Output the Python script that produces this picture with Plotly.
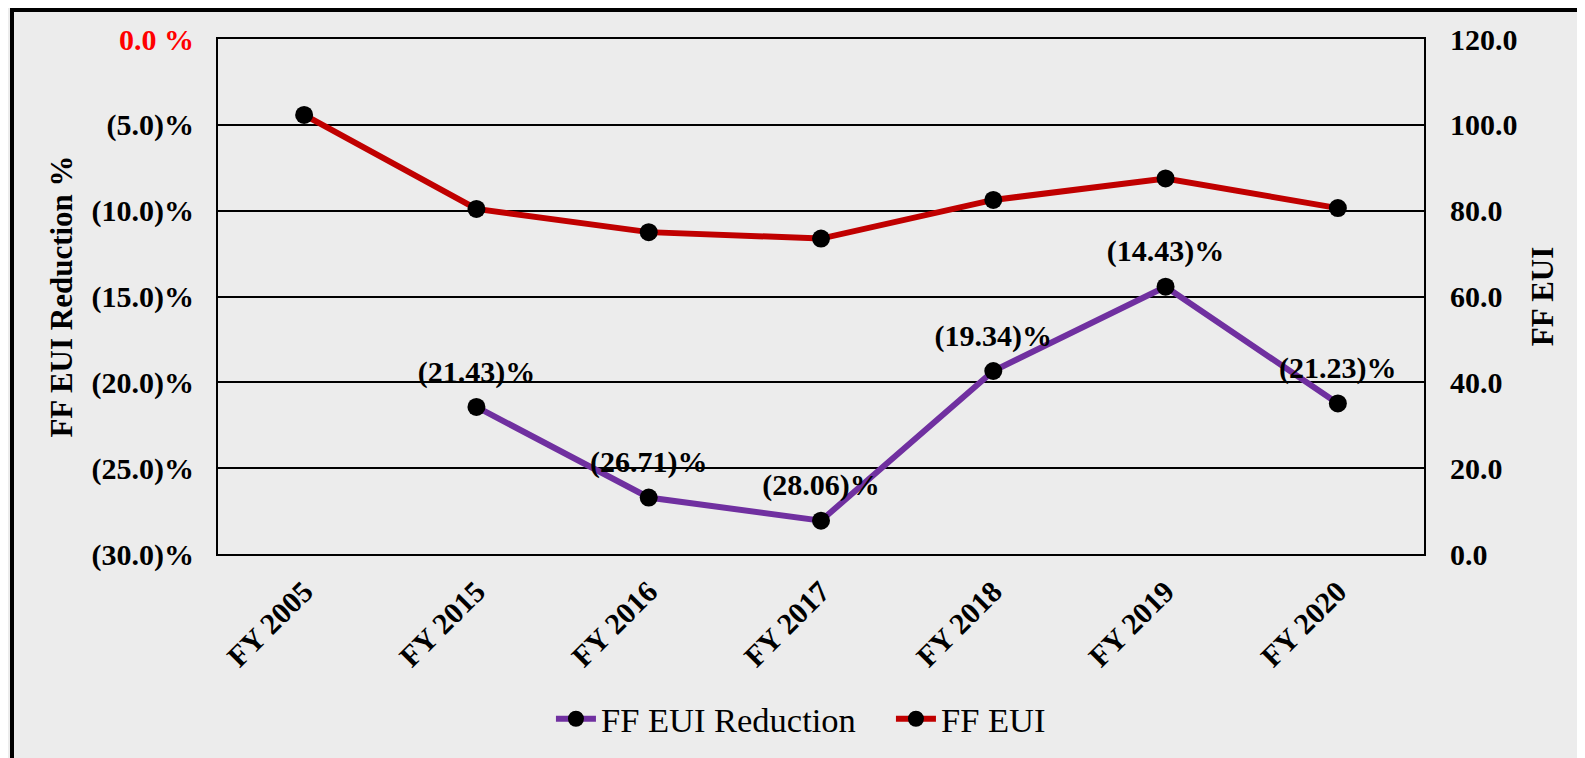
import plotly.graph_objects as go

categories = ["FY 2005", "FY 2015", "FY 2016", "FY 2017", "FY 2018", "FY 2019", "FY 2020"]
eui_reduction = [None, -21.43, -26.71, -28.06, -19.34, -14.43, -21.23]
ff_eui = [102.3, 80.4, 75.0, 73.5, 82.5, 87.5, 80.6]

left_tickvals = [0, -5, -10, -15, -20, -25, -30]
left_ticktext = ['<span style="color:#ff0000">0.0 %</span>', "(5.0)%", "(10.0)%", "(15.0)%",
                 "(20.0)%", "(25.0)%", "(30.0)%"]
right_tickvals = [0, 20, 40, 60, 80, 100, 120]
right_ticktext = ["0.0", "20.0", "40.0", "60.0", "80.0", "100.0", "120.0"]

FONT = "Liberation Serif"
reduction_labels = [None if v is None else f"({abs(v):.2f})%" for v in eui_reduction]

# the page body has an 8px margin, so the figure starts at (8, 8)
OFF = 8
W, H = 1585, 758
ML, MR, MT, MB = 218 - OFF, 161 + OFF, 39 - OFF, 204 + OFF
PW, PH = W - ML - MR, H - MT - MB

fig = go.Figure()
fig.add_trace(go.Scatter(
    x=categories, y=eui_reduction, name="FF EUI Reduction", mode="lines+markers",
    line=dict(color="#7030A0", width=6),
    marker=dict(color="black", size=18),
    yaxis="y", cliponaxis=False,
))
# data labels (transparent, larger markers only to push the labels a little higher)
fig.add_trace(go.Scatter(
    x=categories, y=eui_reduction, name="FF EUI Reduction labels", mode="markers+text",
    marker=dict(color="rgba(0,0,0,0)", size=27),
    text=reduction_labels, textposition="top center",
    textfont=dict(family=FONT, size=30, color="black", weight="bold"),
    yaxis="y", cliponaxis=False, showlegend=False, hoverinfo="skip",
))
fig.add_trace(go.Scatter(
    x=categories, y=ff_eui, name="FF EUI", mode="lines+markers",
    line=dict(color="#C00000", width=6),
    marker=dict(color="black", size=18),
    yaxis="y2", cliponaxis=False,
))

fig.update_layout(
    width=W, height=H,
    margin=dict(l=ML, r=MR, t=MT, b=MB, autoexpand=False),
    paper_bgcolor="#ececec", plot_bgcolor="rgba(0,0,0,0)",
    font=dict(family=FONT, color="black"),
    showlegend=True,
    legend=dict(orientation="h", x=0.558, xanchor="center", y=-0.32, yanchor="middle",
                font=dict(family=FONT, size=34.5, color="black"), bgcolor="rgba(0,0,0,0)",
                itemwidth=40, traceorder="normal", entrywidth=285),
    xaxis=dict(
        type="category", range=[-0.5, 6.5], tickangle=-45,
        tickfont=dict(family=FONT, size=30, color="black", weight="bold"),
        showline=True, linecolor="black", linewidth=2, mirror=True,
        showgrid=False, ticks="", ticklabelstandoff=6, automargin=False,
    ),
    yaxis=dict(
        range=[-30, 0], tickvals=left_tickvals, ticktext=left_ticktext,
        tickfont=dict(family=FONT, size=30, color="black", weight="bold"),
        showgrid=True, gridcolor="black", gridwidth=1.5,
        showline=True, linecolor="black", linewidth=2,
        zeroline=False, ticks="", ticklabelstandoff=16, automargin=False,
        title=dict(text="FF EUI Reduction %", font=dict(family=FONT, size=31, color="black", weight="bold"),
                   standoff=10),
    ),
    yaxis2=dict(
        range=[0, 120], tickvals=right_tickvals, ticktext=right_ticktext,
        overlaying="y", side="right",
        tickfont=dict(family=FONT, size=30, color="black", weight="bold"),
        showgrid=False, showline=True, linecolor="black", linewidth=2,
        zeroline=False, ticks="", ticklabelstandoff=18, automargin=False,
        title=dict(text="FF EUI", font=dict(family=FONT, size=31, color="black", weight="bold"),
                   standoff=15),
    ),
)

# outer black frame (extends past right/bottom edges as in the reference)
fig.add_shape(type="rect", xref="paper", yref="paper",
              x0=(4 - ML) / PW, x1=(W + 40 - ML) / PW,
              y0=-(H + 40 - MT - PH) / PH, y1=1 + (MT - 2) / PH,
              line=dict(color="black", width=4), fillcolor="rgba(0,0,0,0)", layer="below")

fig.write_html("out.html")
